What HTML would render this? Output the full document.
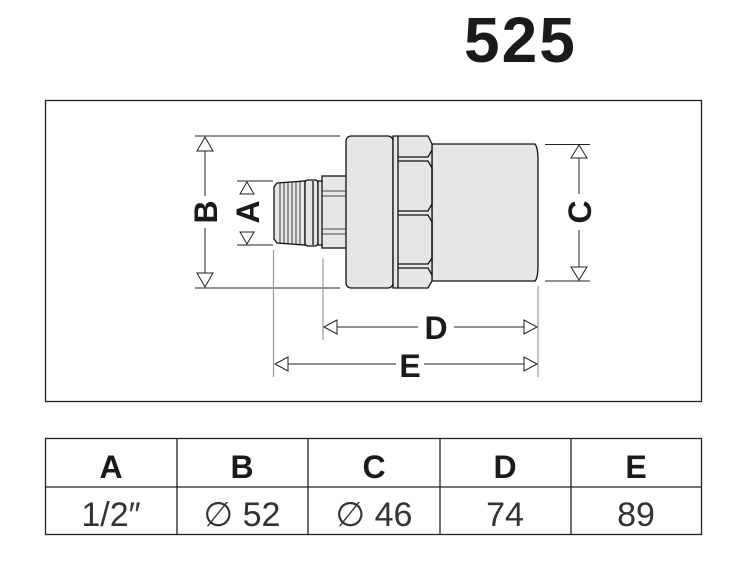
<!DOCTYPE html>
<html><head><meta charset="utf-8"><style>
html,body{margin:0;padding:0;background:#fff;}
svg{display:block;}
text{font-family:"Liberation Sans",sans-serif;}
</style></head><body>
<svg width="737" height="565" viewBox="0 0 737 565" xmlns="http://www.w3.org/2000/svg">
<text x="464" y="62" font-size="64" font-weight="bold" fill="#1a1a1a" letter-spacing="2">525</text>
<rect x="45.5" y="100.5" width="656" height="301" fill="none" stroke="#222" stroke-width="1.3"/>

<g stroke="#222" stroke-width="1">
<line x1="195" y1="136" x2="340" y2="136"/>
<line x1="195" y1="288" x2="340" y2="288"/>
<line x1="237" y1="181" x2="273" y2="181"/>
<line x1="237" y1="245" x2="273" y2="245"/>
<line x1="545" y1="144.5" x2="590" y2="144.5"/>
<line x1="545" y1="281" x2="590" y2="281"/>
</g>
<g stroke="#999" stroke-width="1.2">
<line x1="273.5" y1="250" x2="273.5" y2="377"/>
<line x1="323" y1="258" x2="323" y2="340"/>
<line x1="538" y1="286" x2="538" y2="377"/>
</g>
<g stroke="#222" stroke-width="1" fill="#fff">
<line x1="205" y1="150" x2="205" y2="196"/><line x1="205" y1="228" x2="205" y2="274"/>
<polygon points="197,151 213,151 205,137"/><polygon points="197,273 213,273 205,287"/>
<polygon points="240,194 254,194 247,182"/><polygon points="240,232 254,232 247,244"/>
<line x1="579" y1="158" x2="579" y2="194"/><line x1="579" y1="230" x2="579" y2="267"/>
<polygon points="571,158 587,158 579,145"/><polygon points="571,267 587,267 579,280"/>
<line x1="336" y1="327" x2="418" y2="327"/><line x1="454" y1="327" x2="524" y2="327"/>
<polygon points="337,320 337,334 324,327"/><polygon points="524,320 524,334 537,327"/>
<line x1="287" y1="364" x2="396" y2="364"/><line x1="424" y1="364" x2="524" y2="364"/>
<polygon points="288,357 288,371 275,364"/><polygon points="524,357 524,371 537,364"/>
</g>
<g font-weight="bold" font-size="32" fill="#1a1a1a">
<text x="436" y="339" text-anchor="middle">D</text>
<text x="410" y="377" text-anchor="middle">E</text>
<text transform="translate(217,212) rotate(-90)" text-anchor="middle">B</text>
<text transform="translate(259,212) rotate(-90)" text-anchor="middle">A</text>
<text transform="translate(591,212) rotate(-90)" text-anchor="middle">C</text>
</g>

<g stroke="#111" stroke-width="1.3" fill="#e6e6e6">
<path d="M277,183 L305,181 L305,245 L277,243 L274,239 L274,187 Z"/>
<g stroke-width="0.8"><line x1="280" y1="183" x2="280" y2="243"/><line x1="284" y1="183" x2="284" y2="243"/><line x1="288" y1="182" x2="288" y2="244"/><line x1="292" y1="182" x2="292" y2="244"/><line x1="296" y1="182" x2="296" y2="244"/><line x1="300" y1="181" x2="300" y2="245"/></g>
<rect x="305" y="180" width="13" height="66" rx="3"/>
<line x1="313" y1="181" x2="313" y2="245"/>
<rect x="318" y="181" width="5" height="64"/>
<rect x="322" y="176" width="25" height="72"/>
<line x1="322" y1="191" x2="346" y2="191" stroke-width="0.8"/><line x1="322" y1="196" x2="346" y2="196" stroke-width="0.8"/>
<line x1="322" y1="229" x2="346" y2="229" stroke-width="0.8"/><line x1="322" y1="234" x2="346" y2="234" stroke-width="0.8"/>
<rect x="346" y="136" width="47" height="152" rx="5"/>
<path d="M432,144 L535,144 Q538,148 538,160 L538,265 Q538,278 535,281 L432,281 Z"/>
<path d="M393,136 L428,136 L432,144 L432,281 L428,288 L393,288 Z"/>
<line x1="398" y1="136" x2="398" y2="288"/>
<path d="M398,161 L428,161 L432,168 L432,204 L428,211 L398,211" fill="none"/>
<path d="M398,215 L428,215 L432,222 L432,258 L428,264 L398,264" fill="none"/>
<path d="M398,157 L428,157 L432,150" fill="none"/>
<path d="M398,268 L428,268 L432,275" fill="none"/>
</g>

<g stroke="#222" stroke-width="1.3" fill="none">
<rect x="45.5" y="438.5" width="656" height="96"/>
<line x1="45" y1="487" x2="702" y2="487"/>
<line x1="177" y1="438" x2="177" y2="535"/>
<line x1="308" y1="438" x2="308" y2="535"/>
<line x1="440" y1="438" x2="440" y2="535"/>
<line x1="571" y1="438" x2="571" y2="535"/>
</g>
<g font-weight="bold" font-size="32" fill="#1a1a1a" text-anchor="middle">
<text x="111" y="478">A</text><text x="242" y="478">B</text><text x="374" y="478">C</text><text x="505" y="478">D</text><text x="636" y="478">E</text>
</g>
<g font-size="34" fill="#333" text-anchor="middle">
<text x="111" y="526">1/2″</text><text x="242" y="526">∅ 52</text><text x="374" y="526">∅ 46</text><text x="505" y="526">74</text><text x="636" y="526">89</text>
</g>
</svg>
</body></html>
